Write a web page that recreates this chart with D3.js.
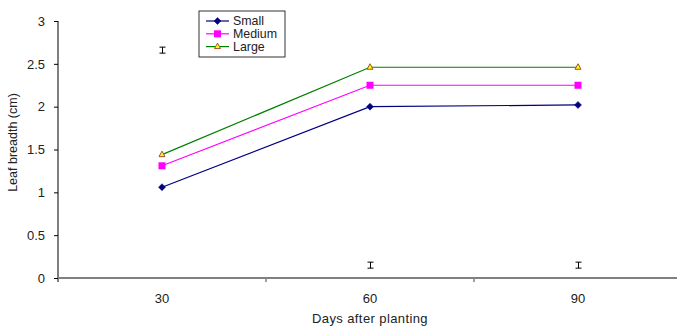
<!DOCTYPE html>
<html>
<head>
<meta charset="utf-8">
<script src="https://cdn.jsdelivr.net/npm/d3@7"></script>
<style>
  html, body { margin: 0; padding: 0; background: #fff; }
  svg { display: block; font-family: "Liberation Sans", Arial, sans-serif; }
</style>
</head>
<body>
<svg id="chart" width="677" height="331"></svg>
<script>
// Leaf breadth by sucker size over days after planting
const days = ["30", "60", "90"];
const small = [1.06, 2.00, 2.02];
const medium = [1.31, 2.25, 2.25];
const large = [1.44, 2.46, 2.46];
// LSD bar position (centre value) and its half-length for each sampling date
const lsdCentre = [2.66, 0.15, 0.15];
const lsdHalf = [0.035, 0.035, 0.035];
const yTicks = [0, 0.5, 1, 1.5, 2, 2.5, 3];

const seriesList = [
  { name: "Small", values: small, color: "#000080", marker: "diamond" },
  { name: "Medium", values: medium, color: "#ff00ff", marker: "square" },
  { name: "Large", values: large, color: "#008000", marker: "triangle" }
];

const svg = d3.select("#chart");
const margin = { left: 58, right: -5, top: 21, bottom: 53 };
const W = 677, H = 331;
const FS = 13;

const x = d3.scaleBand().domain(days).range([margin.left, W - margin.right]).padding(0);
const y = d3.scaleLinear().domain([0, 3]).range([H - margin.bottom, margin.top]);
const cx = d => x(d) + x.bandwidth() / 2;

// y axis
const yAxis = svg.append("g").attr("transform", `translate(${margin.left},0)`)
  .call(d3.axisLeft(y).tickValues(yTicks).tickFormat(d3.format("")).tickSize(4).tickPadding(9));
yAxis.select(".domain").attr("d", `M0,${margin.top}V${y(0) + 4}`).attr("stroke", "#000");
yAxis.selectAll(".tick line").attr("stroke", "#000");
yAxis.selectAll("text").attr("font-size", FS).attr("fill", "#222");

// x axis: band boundaries carry the ticks, labels sit in the band centres
const xAxis = svg.append("g").attr("transform", `translate(0,${y(0)})`);
xAxis.append("line").attr("x1", margin.left).attr("x2", W).attr("y1", 0).attr("y2", 0)
  .attr("stroke", "#808080").attr("stroke-width", 2);
xAxis.selectAll("line.tick").data(days.slice(1)).join("line").attr("class", "tick")
  .attr("x1", d => x(d)).attr("x2", d => x(d)).attr("y1", 0).attr("y2", 4)
  .attr("stroke", "#808080").attr("stroke-width", 1.5);
xAxis.selectAll("text").data(days).join("text")
  .attr("x", d => cx(d)).attr("y", 25).attr("text-anchor", "middle")
  .attr("font-size", FS).attr("fill", "#222").text(d => d);

// axis titles
svg.append("text").attr("x", cx("60")).attr("y", 323).attr("text-anchor", "middle")
  .attr("font-size", FS).attr("letter-spacing", 0.4).attr("fill", "#222").text("Days after planting");
svg.append("text").attr("transform", `translate(17,${(y(0) + y(3)) / 2 - 7}) rotate(-90)`)
  .attr("text-anchor", "middle").attr("font-size", 12.5).attr("fill", "#222").text("Leaf breadth (cm)");

// markers
function drawMarker(g, kind, color, px, py) {
  if (kind === "diamond") {
    g.append("path").attr("d", `M${px},${py - 3.5}L${px + 3.5},${py}L${px},${py + 3.5}L${px - 3.5},${py}Z`)
      .attr("fill", color).attr("stroke", color).attr("stroke-width", 0.5);
  } else if (kind === "square") {
    g.append("rect").attr("x", px - 3.5).attr("y", py - 3.5).attr("width", 7).attr("height", 7)
      .attr("fill", color);
  } else {
    g.append("path").attr("d", `M${px},${py - 3.5}L${px + 3},${py + 2}L${px - 3},${py + 2}Z`)
      .attr("fill", "#ffff00").attr("stroke", "#a0522d").attr("stroke-width", 1);
  }
}

const line = d3.line().x((v, i) => cx(days[i])).y(v => y(v));
seriesList.forEach(s => {
  const g = svg.append("g");
  g.append("path").attr("d", line(s.values)).attr("fill", "none")
    .attr("stroke", s.color).attr("stroke-width", 1.2);
  s.values.forEach((v, i) => drawMarker(g, s.marker, s.color, cx(days[i]), y(v)));
});

// LSD bars
const lsd = svg.append("g").attr("stroke", "#000").attr("stroke-width", 1);
days.forEach((d, i) => {
  const px = Math.round(cx(d)) + 0.5;
  const top = y(lsdCentre[i] + lsdHalf[i]), bot = y(lsdCentre[i] - lsdHalf[i]);
  lsd.append("line").attr("x1", px).attr("x2", px).attr("y1", top).attr("y2", bot);
  lsd.append("line").attr("x1", px - 3).attr("x2", px + 3).attr("y1", top).attr("y2", top);
  lsd.append("line").attr("x1", px - 3).attr("x2", px + 3).attr("y1", bot).attr("y2", bot);
});

// legend
const leg = svg.append("g").attr("transform", "translate(199,11)");
leg.append("rect").attr("x", 0).attr("y", 0).attr("width", 86).attr("height", 46)
  .attr("fill", "#fff").attr("stroke", "#333").attr("stroke-width", 1);
seriesList.forEach((s, i) => {
  const ly = 10 + i * 12.8;
  leg.append("line").attr("x1", 7).attr("x2", 30).attr("y1", ly).attr("y2", ly)
    .attr("stroke", s.color).attr("stroke-width", 1.2);
  drawMarker(leg, s.marker, s.color, 18.5, ly);
  leg.append("text").attr("x", 34).attr("y", ly + 4.3).attr("font-size", 12.4)
    .attr("fill", "#222").text(s.name);
});
</script>
</body>
</html>
